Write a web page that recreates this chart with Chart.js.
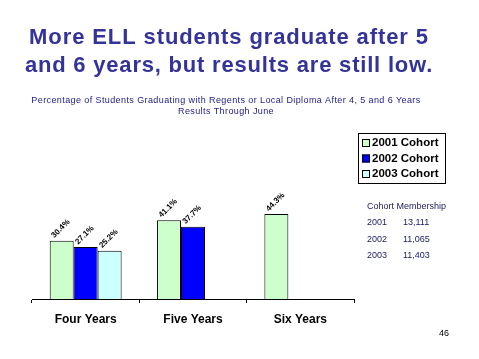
<!DOCTYPE html>
<html>
<head>
<meta charset="utf-8">
<script src="https://cdn.jsdelivr.net/npm/chart.js@4/dist/chart.umd.min.js"></script>
<style>
  html, body { margin: 0; padding: 0; background: #fff; }
  .chart-container { position: relative; width: 479px; height: 359px; }
</style>
</head>
<body>
<div class="chart-container">
  <canvas id="gradChart" width="479" height="359"></canvas>
</div>
<script>
const categories = ['Four Years', 'Five Years', 'Six Years'];
const cohorts = ['2001 Cohort', '2002 Cohort', '2003 Cohort'];
const cohort2001 = [30.4, 41.1, 44.3];
const cohort2002 = [27.1, 37.7, null];
const cohort2003 = [25.2, null, null];
const membershipYears = ['2001', '2002', '2003'];
const membershipCounts = ['13,111', '11,065', '11,403'];
const colors = ['#CCFFCC', '#0000FF', '#CCFFFF'];

const titleLines = ['More ELL students graduate after 5', 'and 6 years, but results are still low.'];
const subtitleLines = ['Percentage of Students Graduating with Regents or Local Diploma After 4, 5 and 6 Years', 'Results Through June'];

// draws the slide text, value labels and the boxed legend
const slideText = {
    id: 'slideText',
    afterDatasetsDraw(chart) {
        const ctx = chart.ctx;
        ctx.save();

        // value labels, rotated
        ctx.fillStyle = '#000';
        ctx.font = 'bold 8px "Liberation Sans", Arial, sans-serif';
        ctx.textAlign = 'center';
        ctx.textBaseline = 'middle';
        chart.data.datasets.forEach((ds, i) => {
            chart.getDatasetMeta(i).data.forEach((bar, j) => {
                const v = ds.data[j];
                if (v === null) return;
                ctx.save();
                ctx.translate(bar.x - 1, bar.y - 12);
                ctx.rotate(-Math.PI / 4);
                ctx.fillText(v.toFixed(1) + '%', 0, 0);
                ctx.restore();
            });
        });

        // title
        ctx.fillStyle = '#333399';
        ctx.font = 'bold 22px "Liberation Sans", Arial, sans-serif';
        ctx.textBaseline = 'alphabetic';
        ctx.letterSpacing = '0.9px';
        ctx.fillText(titleLines[0], 229, 44);
        ctx.letterSpacing = '0.8px';
        ctx.fillText(titleLines[1], 229, 72);

        ctx.font = '9px "Liberation Sans", Arial, sans-serif';
        ctx.fillStyle = '#222288';
        ctx.letterSpacing = '0.4px';
        ctx.fillText(subtitleLines[0], 226, 103);
        ctx.fillText(subtitleLines[1], 226, 114);
        ctx.letterSpacing = '0px';

        // legend box
        ctx.strokeStyle = '#000';
        ctx.lineWidth = 1;
        ctx.strokeRect(358.5, 133.5, 87, 50);
        ctx.textAlign = 'left';
        ctx.textBaseline = 'middle';
        ctx.font = 'bold 11.5px "Liberation Sans", Arial, sans-serif';
        cohorts.forEach((name, i) => {
            const y = 143 + i * 15.5;
            ctx.fillStyle = colors[i];
            ctx.fillRect(362, y - 4, 8, 8);
            ctx.strokeStyle = '#000';
            ctx.strokeRect(362.5, y - 3.5, 7, 7);
            ctx.fillStyle = '#000';
            ctx.fillText(name, 372, y);
        });

        // cohort membership
        ctx.fillStyle = '#1a1a66';
        ctx.font = '9px "Liberation Sans", Arial, sans-serif';
        ctx.fillText('Cohort Membership', 367, 207);
        membershipYears.forEach((yr, i) => {
            const y = 223 + i * 16.5;
            ctx.fillText(yr, 367, y);
            ctx.fillText(membershipCounts[i], 403, y);
        });

        // page number
        ctx.fillStyle = '#000';
        ctx.font = '9px "Liberation Sans", Arial, sans-serif';
        ctx.fillText('46', 439, 334);
        ctx.restore();
    }
};

const ctx1 = document.getElementById('gradChart').getContext('2d');
const gradChart = new Chart(ctx1, {
    type: 'bar',
    data: {
        labels: categories,
        datasets: [
            { label: cohorts[0], data: cohort2001, backgroundColor: colors[0] },
            { label: cohorts[1], data: cohort2002, backgroundColor: colors[1] },
            { label: cohorts[2], data: cohort2003, backgroundColor: colors[2] }
        ].map(ds => Object.assign(ds, {
            borderColor: '#000',
            borderWidth: 1,
            borderSkipped: 'bottom',
            categoryPercentage: 0.67,
            barPercentage: 1.0
        }))
    },
    options: {
        responsive: false,
        animation: false,
        layout: {
            padding: { left: 32, right: 125, top: 184, bottom: 0 }
        },
        scales: {
            x: {
                afterFit(scale) { scale.height = 60; },
                grid: {
                    display: true,
                    offset: true,
                    drawOnChartArea: false,
                    drawTicks: true,
                    tickLength: 4,
                    color: '#000'
                },
                border: { display: true, color: '#000' },
                ticks: {
                    color: '#000',
                    padding: 9,
                    font: { family: '"Liberation Sans", Arial, sans-serif', size: 12, weight: 'bold' }
                }
            },
            y: {
                display: false,
                min: 0,
                max: 60
            }
        },
        plugins: {
            legend: { display: false },
            tooltip: { enabled: false }
        }
    },
    plugins: [slideText]
});
</script>
</body>
</html>
